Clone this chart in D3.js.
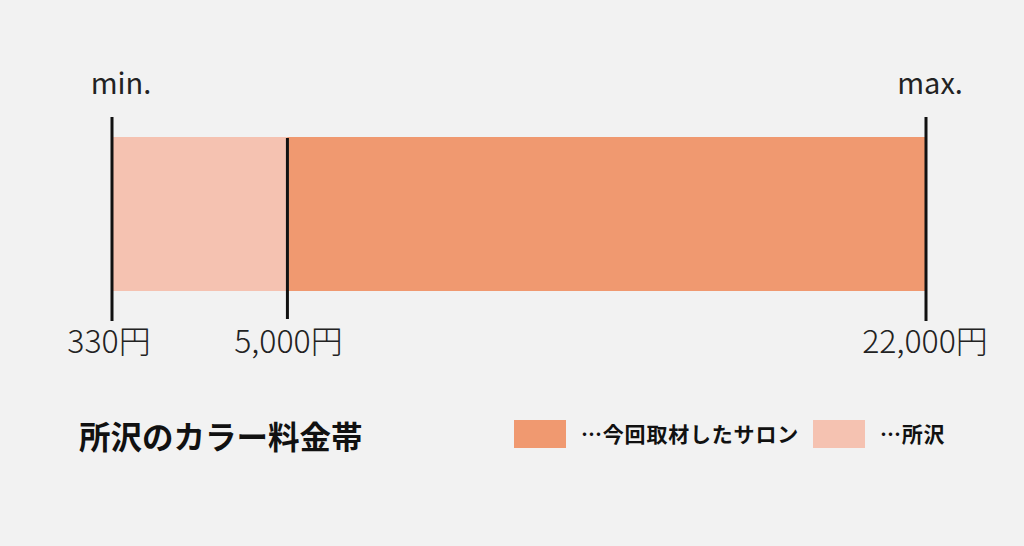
<!DOCTYPE html>
<html>
<head>
<meta charset="utf-8">
<script src="https://cdn.jsdelivr.net/npm/d3@7"></script>
<style>
  html, body { margin: 0; padding: 0; background: #f2f2f2; }
  svg { display: block; font-family: "Noto Sans CJK JP", "Noto Sans", sans-serif; }
</style>
</head>
<body>
<div id="chart"></div>
<script>
// price range (yen)
const priceMin = 330,
  priceMax = 22000;
const rangeNames = ["所沢", "今回取材したサロン"];
const rangeFrom = [330, 5000];
const rangeTo = [22000, 22000];
const rangeColors = ["#f5c2b1", "#f09970"];
const tickValues = [330, 5000, 22000];
const tickLabels = ["330円", "5,000円", "22,000円"];
const endLabels = ["min.", "max."];
const title = "所沢のカラー料金帯";
const legendNames = ["…今回取材したサロン", "…所沢"];
const legendColors = ["#f09970", "#f5c2b1"];

const width = 1024,
  height = 546;

const svg = d3.select("#chart")
  .append("svg")
  .attr("width", width)
  .attr("height", height)
  .attr("viewBox", [0, 0, width, height]);

svg.append("rect")
  .attr("width", width)
  .attr("height", height)
  .attr("fill", "#f2f2f2");

const x = d3.scaleLinear()
  .domain([priceMin, priceMax])
  .range([112, 926]);

const barTop = 137,
  barBottom = 291;

const ranges = rangeNames.map((name, i) => ({ name, from: rangeFrom[i], to: rangeTo[i], color: rangeColors[i] }));

// bars (light first, dark on top)
svg.append("g")
  .selectAll("rect")
  .data(ranges)
  .join("rect")
  .attr("x", d => x(d.from))
  .attr("y", barTop)
  .attr("width", d => x(d.to) - x(d.from))
  .attr("height", barBottom - barTop)
  .attr("fill", d => d.color);

// vertical marker lines
const lineTops = [117, 138, 117];
const lineBottoms = [321, 319, 321];
svg.append("g")
  .selectAll("line")
  .data(tickValues)
  .join("line")
  .attr("x1", d => x(d))
  .attr("x2", d => x(d))
  .attr("y1", (d, i) => lineTops[i])
  .attr("y2", (d, i) => lineBottoms[i])
  .attr("stroke", "#111")
  .attr("stroke-width", 3);

// tick labels under the lines
svg.append("g")
  .selectAll("text")
  .data(tickValues)
  .join("text")
  .attr("x", (d, i) => x(d) + [-3, 1, -1][i])
  .attr("y", 353)
  .attr("text-anchor", "middle")
  .attr("font-size", 32)
  .attr("font-weight", 300)
  .attr("fill", "#222")
  .text((d, i) => tickLabels[i]);

// min. / max.
svg.append("g")
  .selectAll("text")
  .data([priceMin, priceMax])
  .join("text")
  .attr("x", (d, i) => x(d) + (i === 0 ? 9 : 4))
  .attr("y", 94)
  .attr("text-anchor", "middle")
  .attr("font-size", 29)
  .attr("font-weight", 400)
  .attr("fill", "#222")
  .text((d, i) => endLabels[i]);

// title
svg.append("text")
  .attr("x", 79)
  .attr("y", 449)
  .attr("font-size", 31.5)
  .attr("font-weight", 700)
  .attr("fill", "#111")
  .text(title);

// legend
const legendX = [514, 813];
const legend = svg.append("g")
  .selectAll("g")
  .data(legendNames)
  .join("g")
  .attr("transform", (d, i) => `translate(${legendX[i]},420)`);

legend.append("rect")
  .attr("width", 52)
  .attr("height", 28)
  .attr("fill", (d, i) => legendColors[i]);

legend.append("text")
  .attr("x", 67)
  .attr("y", 22)
  .attr("font-size", 21)
  .attr("font-weight", 700)
  .attr("letter-spacing", 0.8)
  .attr("fill", "#111")
  .text(d => d);
</script>
</body>
</html>
